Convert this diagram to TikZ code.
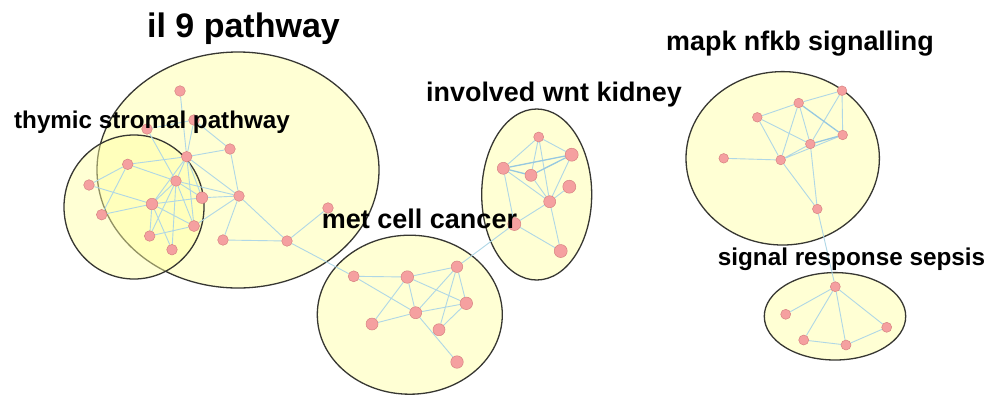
\documentclass[tikz,border=0pt]{standalone}
\usepackage{fontspec}
\setmainfont{Liberation Sans}
\usetikzlibrary{backgrounds}
\definecolor{ellfill}{RGB}{255,255,160}
\definecolor{ellline}{RGB}{55,55,50}
\definecolor{nodefill}{RGB}{245,160,160}
\definecolor{nodeline}{RGB}{215,130,130}
\definecolor{edgecol}{RGB}{175,215,230}
\definecolor{edgedark}{RGB}{150,200,225}
\tikzset{
  cluster/.style={draw=ellline, line width=1.3pt, fill=ellfill, fill opacity=0.45, draw opacity=1},
  gnode/.style={circle, fill=nodefill, draw=nodeline, line width=0.5pt, inner sep=0pt, minimum size=#1},
  gnode/.default=10.6pt,
  edge/.style={draw=edgecol, line width=0.9pt},
  strong edge/.style={draw=edgedark, line width=1.3pt},
  clabel/.style={font=\bfseries\fontsize{#1}{#1}\selectfont, anchor=base, text=black, inner sep=0pt}
}
\begin{document}
\begin{tikzpicture}[x=1pt,y=-1pt]
\useasboundingbox (0,0) rectangle (1000,408);

% il 9 / thymic nodes
\node[gnode] (A) at (180,91) {};
\node[gnode] (B) at (194,120) {};
\node[gnode] (C) at (147,129) {};
\node[gnode] (D) at (230,149) {};
\node[gnode] (E) at (186.7,156.7) {};
\node[gnode] (F) at (127.7,164.3) {};
\node[gnode] (G) at (89,185) {};
\node[gnode] (H) at (176,181) {};
\node[gnode=11.5pt] (I) at (202,197.7) {};
\node[gnode] (J) at (239,196) {};
\node[gnode=11.5pt] (K) at (152,204) {};
\node[gnode] (L) at (101.7,214.7) {};
\node[gnode=11pt] (M) at (194,226) {};
\node[gnode] (N) at (149.7,236) {};
\node[gnode] (O) at (223,240) {};
\node[gnode] (P) at (172,249.7) {};
\node[gnode] (Q) at (287,241) {};
\node[gnode] (R) at (328,208) {};

% wnt nodes
\node[gnode=10pt] (W1) at (538.7,137) {};
\node[gnode=13pt] (W2) at (571.7,154.7) {};
\node[gnode=12pt] (W3) at (503.3,168.3) {};
\node[gnode=12pt] (W4) at (531,175.3) {};
\node[gnode=13pt] (W5) at (569.3,186.7) {};
\node[gnode=12pt] (W6) at (549.7,201.7) {};
\node[gnode=13pt] (W7) at (514.3,224) {};
\node[gnode=13pt] (W8) at (560.7,251) {};

% met nodes
\node[gnode=11pt] (T1) at (353.7,276.3) {};
\node[gnode=12.5pt] (T2) at (407.3,277) {};
\node[gnode=11.5pt] (T3) at (457,266.7) {};
\node[gnode=12.5pt] (T4) at (466.3,303.3) {};
\node[gnode=12pt] (T5) at (415.7,312.7) {};
\node[gnode=12pt] (T6) at (372,324) {};
\node[gnode=12pt] (T7) at (439,329.7) {};
\node[gnode=12.5pt] (T8) at (457,362) {};

% mapk nodes
\node[gnode=9.6pt] (M1) at (842,90.7) {};
\node[gnode=9.6pt] (M2) at (798.7,103) {};
\node[gnode=9.6pt] (M3) at (757.3,117.3) {};
\node[gnode=9.6pt] (M4) at (842.7,135) {};
\node[gnode=9.6pt] (M5) at (810.3,144) {};
\node[gnode=9.6pt] (M6) at (723.7,158.3) {};
\node[gnode=9.6pt] (M7) at (780.7,160) {};
\node[gnode=9.6pt] (M8) at (817.3,209) {};

% sepsis nodes
\node[gnode=10pt] (S1) at (835.3,286.7) {};
\node[gnode=10pt] (S2) at (785.7,314.3) {};
\node[gnode=10pt] (S3) at (886.7,327.3) {};
\node[gnode=10pt] (S4) at (803.7,340) {};
\node[gnode=10pt] (S5) at (846,345) {};

\begin{pgfonlayer}{background}
\fill[white] (0,0) rectangle (1000,408);
% clusters
\path[cluster] (238,170) ellipse [x radius=141, y radius=118];
\path[cluster] (134,207) ellipse [x radius=70, y radius=72];
\path[cluster] (536.7,194.5) ellipse [x radius=55, y radius=85.5];
\path[cluster] (409.8,314.7) ellipse [x radius=92.5, y radius=79.5];
\path[cluster] (782.7,158.3) ellipse [x radius=96.7, y radius=86.7];
\path[cluster] (835,316.3) ellipse [x radius=70.7, y radius=43.7];
% edges
\path[edge]
  (E)--(A) (E)--(B) (C)--(H) (B)--(D) (C)--(B)
  (E)--(D) (F)--(E) (F)--(H) (F)--(L) (G)--(F) (G)--(K) (L)--(K)
  (K)--(I) (K)--(M) (K)--(N) (K)--(P) (K)--(H) (K)--(E)
  (H)--(E) (H)--(I) (H)--(M) (H)--(P) (H)--(N) (H)--(J)
  (E)--(I) (E)--(M) (E)--(J) (D)--(J) (I)--(J) (M)--(J) (M)--(N)
  (J)--(O) (J)--(Q) (O)--(Q) (Q)--(R) (Q)--(T1)
  (W1)--(W3) (W1)--(W4) (W1)--(W6) (W1)--(W2)
  (W3)--(W6) (W4)--(W6) (W2)--(W6) (W5)--(W6)
  (W3)--(W7) (W6)--(W7) (W7)--(W8) (W6)--(W8) (W7)--(T3)
  (T1)--(T2) (T1)--(T5) (T2)--(T3) (T2)--(T4) (T2)--(T5) (T2)--(T6)
  (T3)--(T5) (T3)--(T7) (T3)--(T4) (T5)--(T4) (T5)--(T6) (T5)--(T8) (T4)--(T7)
  (M1)--(M2) (M1)--(M4) (M1)--(M5) (M2)--(M3) (M2)--(M5) (M2)--(M7)
  (M3)--(M7) (M3)--(M5) (M7)--(M4) (M7)--(M5) (M6)--(M7) (M7)--(M8) (M5)--(M8)
  (M8)--(S1)
  (S1)--(S2) (S1)--(S3) (S1)--(S4) (S1)--(S5) (S4)--(S5) (S5)--(S3);
\path[strong edge] (W3)--(W2) (W4)--(W2) (W3)--(W4) (M2)--(M4) (M5)--(M4);
\end{pgfonlayer}

% labels
\node[clabel=34pt] (l1) at (243.5,37) {il 9 pathway};
\node[clabel=24.2pt] (l2) at (152,128) {thymic stromal pathway};
\node[clabel=26.9pt] (l3) at (554,101) {involved wnt kidney};
\node[clabel=27pt] (l4) at (419.5,228) {met cell cancer};
\node[clabel=26.9pt] (l5) at (800,50) {mapk nfkb signalling};
\node[clabel=24.3pt] (l6) at (851.5,265) {signal response sepsis};
\end{tikzpicture}
\end{document}
